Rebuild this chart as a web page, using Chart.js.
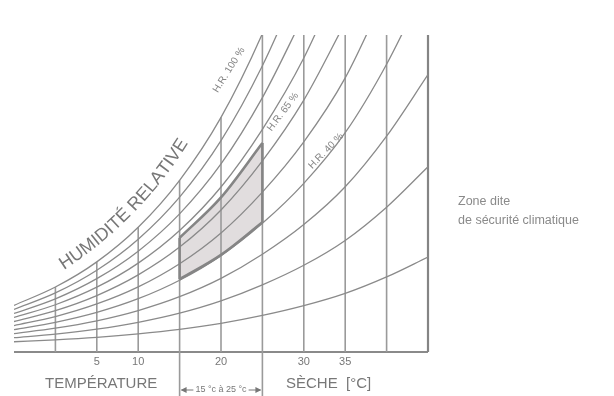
<!DOCTYPE html>
<html lang="fr">
<head>
<meta charset="utf-8">
<title>Zone de sécurité climatique</title>
<script src="https://cdn.jsdelivr.net/npm/chart.js@4.4.1/dist/chart.umd.min.js"></script>
<style>
  html, body { margin: 0; padding: 0; background: #fff; }
  #wrap { width: 614px; height: 396px; }
</style>
</head>
<body>
<div id="wrap"><canvas id="psychro" width="614" height="396"></canvas></div>
<script>
'use strict';

// température sèche (°C), un point tous les 5 °C
var temps = [-5, 0, 5, 10, 15, 20, 25, 30, 35, 40, 45];

var rh100 = [2.60, 3.78, 5.40, 7.63, 10.65, 14.70, 20.09, 26.8];
var rh90 = [2.34, 3.40, 4.86, 6.86, 9.57, 13.20, 18.02, 24.0];
var rh80 = [2.08, 3.02, 4.32, 6.09, 8.49, 11.70, 15.97, 21.26];
var rh70 = [1.82, 2.64, 3.77, 5.32, 7.42, 10.22, 13.93, 18.52, 24.4];
var rh60 = [1.56, 2.26, 3.23, 4.56, 6.35, 8.74, 11.90, 15.81, 20.8];
var rh50 = [1.30, 1.88, 2.69, 3.79, 5.28, 7.26, 9.89, 13.12, 17.24, 22.8];
var rh40 = [1.04, 1.51, 2.15, 3.03, 4.22, 5.80, 7.88, 10.45, 13.71, 18.12, 23.5];
var rh30 = [0.78, 1.13, 1.61, 2.27, 3.16, 4.34, 5.89, 7.80, 10.23, 13.49, 17.45];
var rh20 = [0.52, 0.75, 1.07, 1.51, 2.10, 2.89, 3.92, 5.18, 6.78, 8.92, 11.52];
var rh10 = [0.26, 0.38, 0.54, 0.76, 1.05, 1.44, 1.95, 2.58, 3.37, 4.43, 5.71];

// verticales de température et leur hauteur (jusqu'à la courbe 100 %)
var gridTemps = [0, 5, 10, 15, 20, 25, 30, 35, 40];
var gridTops = [3.78, 5.40, 7.63, 10.65, 14.70, 20, 20, 20, 20];

// zone de sécurité : 15-25 °C, entre H.R. 40 % et H.R. 65 %
var zoneTemps = [15, 20, 25];
var zoneTop = [6.95, 9.55, 13.05];
var zoneBottom = [4.28, 5.85, 7.95];

var tickTemps = [5, 10, 20, 30, 35];

var yMin = -0.4, yMax = 20, yBelow = -3.3;
var xMin = -5, xMax = 45;

var curveColor = '#8a8a8a';
var textColor = '#777';
var font = '"Liberation Sans", Arial, Helvetica, sans-serif';

function pts(xs, ys) {
    return ys.map(function (y, i) { return { x: xs[i], y: y }; });
}

function segment(x, y0, y1, color, width) {
    return {
        data: [{ x: x, y: y0 }, { x: x, y: y1 }],
        borderColor: color,
        borderWidth: width,
        pointRadius: 0,
        fill: false,
        clip: false,
        order: 5,
    };
}

var datasets = [];

[rh100, rh90, rh80, rh70, rh60, rh50, rh40, rh30, rh20, rh10].forEach(function (vals) {
    datasets.push({
        data: pts(temps, vals),
        borderColor: curveColor,
        borderWidth: 1.3,
        pointRadius: 0,
        cubicInterpolationMode: 'monotone',
        fill: false,
        order: 4,
    });
});

gridTemps.forEach(function (t, i) {
    var bottom = (t === 15 || t === 25) ? yBelow : yMin;
    datasets.push(segment(t, bottom, gridTops[i], '#9a9a9a', 1.6));
});

// bord droit et ligne de base
datasets.push(segment(xMax, yMin, yMax, '#858585', 2.2));
datasets.push({
    data: [{ x: xMin, y: yMin }, { x: xMax, y: yMin }],
    borderColor: '#8a8a8a',
    borderWidth: 2,
    pointRadius: 0,
    fill: false,
    clip: false,
    order: 5,
});

// zone : bord supérieur rempli jusqu'au bord inférieur
datasets.push({
    data: pts(zoneTemps, zoneTop),
    borderColor: '#858585',
    borderWidth: 2.6,
    pointRadius: 0,
    cubicInterpolationMode: 'monotone',
    backgroundColor: 'rgba(222, 217, 218, 0.9)',
    fill: '+1',
    order: 1,
});
datasets.push({
    data: pts(zoneTemps, zoneBottom),
    borderColor: '#858585',
    borderWidth: 2.6,
    pointRadius: 0,
    cubicInterpolationMode: 'monotone',
    fill: false,
    order: 1,
});
datasets.push(Object.assign(segment(zoneTemps[0], zoneBottom[0], zoneTop[0], '#858585', 2.6), { order: 1 }));
datasets.push(Object.assign(segment(zoneTemps[2], zoneBottom[2], zoneTop[2], '#858585', 2.6), { order: 1 }));

function rotatedText(ctx, text, cx, cy, deg) {
    ctx.save();
    ctx.translate(cx, cy);
    ctx.rotate(-deg * Math.PI / 180);
    ctx.textAlign = 'center';
    ctx.textBaseline = 'middle';
    ctx.fillText(text, 0, 0);
    ctx.restore();
}

function arcText(ctx, text, x, y, a0, a1) {
    var total = ctx.measureText(text).width;
    var done = 0;
    ctx.textAlign = 'left';
    ctx.textBaseline = 'alphabetic';
    for (var i = 0; i < text.length; i++) {
        var ch = text[i];
        var w = ctx.measureText(ch).width;
        var a = (a0 + (a1 - a0) * (done + w / 2) / total) * Math.PI / 180;
        ctx.save();
        ctx.translate(x, y);
        ctx.rotate(-a);
        ctx.fillText(ch, 0, 0);
        ctx.restore();
        x += Math.cos(a) * w;
        y -= Math.sin(a) * w;
        done += w;
    }
}

var labelsPlugin = {
    id: 'psychroLabels',
    afterDraw: function (chart) {
        var ctx = chart.ctx;
        var xs = chart.scales.x;
        var area = chart.chartArea;
        ctx.save();
        ctx.fillStyle = textColor;

        // valeurs de l'axe
        ctx.font = '11px ' + font;
        ctx.textAlign = 'center';
        ctx.textBaseline = 'alphabetic';
        tickTemps.forEach(function (t) {
            ctx.fillText(String(t), xs.getPixelForValue(t), area.bottom + 13);
        });

        // titres de l'axe
        ctx.font = '15px ' + font;
        ctx.textAlign = 'left';
        ctx.fillText('TEMPÉRATURE', 45, 388);
        ctx.fillText('SÈCHE  [°C]', 286, 388);

        // plage 15 °c à 25 °c
        var xa = xs.getPixelForValue(zoneTemps[0]);
        var xb = xs.getPixelForValue(zoneTemps[2]);
        var ym = 390;
        ctx.font = '9px ' + font;
        ctx.textAlign = 'center';
        ctx.textBaseline = 'middle';
        var label = '15 °c à 25 °c';
        var lw = ctx.measureText(label).width;
        var mid = (xa + xb) / 2;
        ctx.fillText(label, mid, ym);
        ctx.strokeStyle = textColor;
        ctx.lineWidth = 1;
        ctx.beginPath();
        ctx.moveTo(xa + 2, ym); ctx.lineTo(mid - lw / 2 - 2, ym);
        ctx.moveTo(mid + lw / 2 + 2, ym); ctx.lineTo(xb - 2, ym);
        ctx.stroke();
        ctx.beginPath();
        ctx.moveTo(xa + 1, ym); ctx.lineTo(xa + 7, ym - 3); ctx.lineTo(xa + 7, ym + 3); ctx.closePath();
        ctx.moveTo(xb - 1, ym); ctx.lineTo(xb - 7, ym - 3); ctx.lineTo(xb - 7, ym + 3); ctx.closePath();
        ctx.fill();

        // étiquettes des courbes
        ctx.fillStyle = '#858585';
        ctx.font = '10px ' + font;
        rotatedText(ctx, 'H.R. 100 %', 229, 70, 58);
        rotatedText(ctx, 'H.R. 65 %', 283, 112, 53);
        rotatedText(ctx, 'H.R. 40 %', 326, 151, 46);

        ctx.fillStyle = textColor;
        ctx.font = '18px ' + font;
        arcText(ctx, 'HUMIDITÉ RELATIVE', 64, 270, 33, 58);

        // légende
        ctx.fillStyle = '#8a8a8a';
        ctx.font = '12.5px ' + font;
        ctx.textAlign = 'left';
        ctx.textBaseline = 'alphabetic';
        ctx.fillText('Zone dite', 458, 205);
        ctx.fillText('de sécurité climatique', 458, 224);
        ctx.restore();
    },
};

new Chart(document.getElementById('psychro'), {
    type: 'line',
    data: { datasets: datasets },
    options: {
        responsive: false,
        animation: false,
        events: [],
        layout: { padding: { left: 14, right: 186, top: 35, bottom: 44 } },
        scales: {
            x: { type: 'linear', min: xMin, max: xMax, display: false },
            y: { type: 'linear', min: yMin, max: yMax, display: false },
        },
        plugins: {
            legend: { display: false },
            tooltip: { enabled: false },
            filler: { drawTime: 'beforeDatasetsDraw' },
        },
    },
    plugins: [labelsPlugin],
});
</script>
</body>
</html>
